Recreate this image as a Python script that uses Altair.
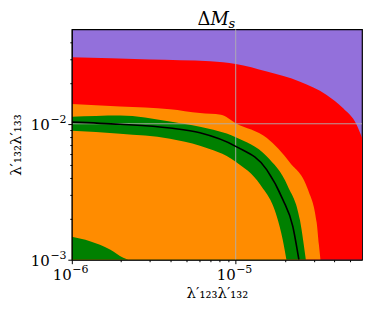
import altair as alt
import pandas as pd

XMIN, XMAX = 1e-6, 5.9e-5
YMIN, YMAX = 1e-3, 0.0495

# red region upper boundary
red_x = [1e-6, 3.0e-6, 7.0e-6, 1.0e-5, 1.55e-5, 2.47e-5, 3.59e-5, 4.53e-5, 5.47e-5, 5.9e-5]
red_y = [0.0308, 0.0297, 0.0288, 0.0275, 0.0242, 0.0204, 0.0163, 0.0130, 0.00984, 0.0079]

# orange (outer) boundary
orange_x = [1e-6, 1.97e-6, 3.97e-6, 6.05e-6, 8.13e-6, 1.0e-5, 1.55e-5, 2.14e-5, 2.76e-5, 3.12e-5, 3.22e-5, 3.29e-5]
orange_y = [0.0140, 0.0134, 0.0128, 0.0120, 0.01164, 0.0101, 0.00785, 0.00520, 0.00328, 0.00188, 0.00129, 0.001]

# green band outer boundary
gout_x = [1e-6, 1.97e-6, 3.97e-6, 6.05e-6, 1.0e-5, 1.545e-5, 2.08e-5, 2.47e-5, 2.68e-5]
gout_y = [0.01125, 0.0115, 0.0104, 0.0095, 0.00796, 0.00576, 0.00347, 0.00194, 0.001]

# green band inner boundary (orange inside)
gin_x = [1e-6, 1.97e-6, 3.97e-6, 6.05e-6, 1.0e-5, 1.41e-5, 1.78e-5, 1.935e-5, 2.04e-5]
gin_y = [0.00888, 0.00844, 0.00776, 0.0069, 0.00526, 0.00357, 0.00209, 0.00141, 0.001]

# central black line
line_x = [1e-6, 1.97e-6, 3.97e-6, 6.05e-6, 1.0e-5, 1.545e-5, 1.94e-5, 2.23e-5, 2.43e-5]
line_y = [0.01029, 0.00992, 0.00930, 0.00859, 0.00682, 0.00460, 0.00277, 0.001764, 0.001]

# green corner, bottom-left
corner_x = [1e-6, 1.29e-6, 1.71e-6, 2.06e-6, 2.21e-6]
corner_y = [0.001475, 0.001369, 0.00119, 0.001034, 0.001]

x_ticks = [1e-6, 2e-6, 3e-6, 4e-6, 5e-6, 6e-6, 7e-6, 8e-6, 9e-6,
           1e-5, 2e-5, 3e-5, 4e-5, 5e-5]
y_ticks = [1e-3, 2e-3, 3e-3, 4e-3, 5e-3, 6e-3, 7e-3, 8e-3, 9e-3,
           1e-2, 2e-2, 3e-2, 4e-2]
x_label_vals = [1e-6, 1e-5]
x_label_exp = ["−6", "−5"]
y_label_vals = [1e-3, 1e-2]
y_label_exp = ["−3", "−2"]
x_grid = [1e-5]
y_grid = [1e-2]

FONT = "DejaVu Serif"
major = "abs(log(datum.value)/LN10 - round(log(datum.value)/LN10)) < 1e-6"

xscale = alt.Scale(type="log", domain=[XMIN, XMAX], nice=False)
yscale = alt.Scale(type="log", domain=[YMIN, YMAX], nice=False)

xaxis = alt.Axis(
    values=x_ticks, grid=False, labels=False, title="λ′₁₂₃λ′₁₃₂",
    tickSize={"condition": {"test": major, "value": 4}, "value": 2},
    tickColor="black", domainColor="black",
    titleFont=FONT, titleFontSize=15, titleFontWeight="normal", titleColor="black",
    titlePadding=21, zindex=1,
)
yaxis = alt.Axis(
    values=y_ticks, grid=False, labels=False, title="λ′₁₃₂λ′₁₃₃",
    tickSize={"condition": {"test": major, "value": 4}, "value": 2},
    tickColor="black", domainColor="black",
    titleFont=FONT, titleFontSize=15, titleFontWeight="normal", titleColor="black",
    titlePadding=44, zindex=1,
)


def area(xs, ys, color):
    df = pd.DataFrame({"x": xs, "y": ys})
    return alt.Chart(df).mark_area(color=color, interpolate="monotone", clip=True).encode(
        x=alt.X("x:Q", scale=xscale, axis=xaxis),
        y=alt.Y("y:Q", scale=yscale, axis=yaxis),
        y2=alt.datum(YMIN),
    )


red = area(red_x, red_y, "#FF0000")
orange = area(orange_x, orange_y, "#FF8C00")
gout = area(gout_x, gout_y, "#008000")
gin = area(gin_x, gin_y, "#FF8C00")
corner = area(corner_x, corner_y, "#008000")

line = alt.Chart(pd.DataFrame({"x": line_x, "y": line_y})).mark_line(
    color="black", strokeWidth=1.6, interpolate="monotone", clip=True
).encode(
    x=alt.X("x:Q", scale=xscale, axis=xaxis),
    y=alt.Y("y:Q", scale=yscale, axis=yaxis),
)

vgrid = alt.Chart(pd.DataFrame({"x": x_grid})).mark_rule(color="#b0b0b0", strokeWidth=0.9).encode(
    x=alt.X("x:Q", scale=xscale, axis=xaxis)
)
hgrid = alt.Chart(pd.DataFrame({"y": y_grid})).mark_rule(color="#b0b0b0", strokeWidth=0.9).encode(
    y=alt.Y("y:Q", scale=yscale, axis=yaxis)
)

# tick labels as base "10" plus superscript exponent
xl = pd.DataFrame({"v": x_label_vals, "e": x_label_exp, "b": ["10"] * len(x_label_vals)})
yl = pd.DataFrame({"v": y_label_vals, "e": y_label_exp, "b": ["10"] * len(y_label_vals)})

xbase = alt.Chart(xl).mark_text(font=FONT, fontSize=15, align="right", baseline="alphabetic",
                                dy=20, dx=0, color="black").encode(
    x=alt.X("v:Q", scale=xscale, axis=xaxis), y=alt.datum(YMIN), text="b:N")
xexp = alt.Chart(xl).mark_text(font=FONT, fontSize=11, align="left", baseline="alphabetic",
                               dy=13, dx=0.5, color="black").encode(
    x=alt.X("v:Q", scale=xscale, axis=xaxis), y=alt.datum(YMIN), text="e:N")
ybase = alt.Chart(yl).mark_text(font=FONT, fontSize=15, align="right", baseline="alphabetic",
                                dx=-22, dy=6, color="black").encode(
    y=alt.Y("v:Q", scale=yscale, axis=yaxis), x=alt.datum(XMIN), text="b:N")
yexp = alt.Chart(yl).mark_text(font=FONT, fontSize=11, align="left", baseline="alphabetic",
                               dx=-21.5, dy=-0.5, color="black").encode(
    y=alt.Y("v:Q", scale=yscale, axis=yaxis), x=alt.datum(XMIN), text="e:N")

# title  ΔM_s  built from three text pieces
t_delta = alt.Chart(pd.DataFrame({"t": ["Δ"]})).mark_text(
    font=FONT, fontSize=18, align="right", baseline="alphabetic", color="black"
).encode(x=alt.value(139), y=alt.value(-4), text="t:N")
t_m = alt.Chart(pd.DataFrame({"t": ["M"]})).mark_text(
    font=FONT, fontSize=18, fontStyle="italic", align="left", baseline="alphabetic", color="black"
).encode(x=alt.value(139), y=alt.value(-4), text="t:N")
t_s = alt.Chart(pd.DataFrame({"t": ["s"]})).mark_text(
    font=FONT, fontSize=13, fontStyle="italic", align="left", baseline="alphabetic", color="black"
).encode(x=alt.value(157), y=alt.value(-1), text="t:N")

chart = alt.layer(red, orange, gout, gin, corner, vgrid, hgrid, line,
                  xbase, xexp, ybase, yexp, t_delta, t_m, t_s).properties(
    width=291, height=231,
    autosize=alt.AutoSizeParams(type="none"),
    padding={"left": 64, "top": 21, "right": 4, "bottom": 47},
).configure_view(fill="#9370DB", stroke="black", strokeWidth=1.2)

chart.save("out.html", embed_options={"renderer": "svg", "actions": False})
